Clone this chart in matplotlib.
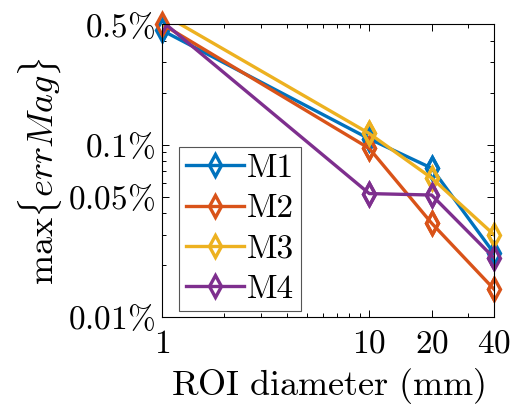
import numpy as np
import matplotlib
matplotlib.use('Agg')
import matplotlib.pyplot as plt
from matplotlib.ticker import FixedLocator, NullFormatter

plt.rcParams['mathtext.fontset'] = 'cm'
plt.rcParams['font.family'] = 'serif'
plt.rcParams['font.serif'] = ['cmr10', 'DejaVu Serif']
plt.rcParams['axes.unicode_minus'] = False

# ROI diameters (mm) and max error magnitude (%)
diam = [1, 10, 20, 40]
m1 = [0.46, 0.108, 0.073, 0.0234]
m2 = [0.50, 0.095, 0.035, 0.0145]
m3 = [0.575, 0.116, 0.064, 0.030]
m4 = [0.52, 0.052, 0.051, 0.022]
names = ['M1', 'M2', 'M3', 'M4']
colors = ['#0072BD', '#D95319', '#EDB120', '#7E2F8E']

ylo, yhi = 0.01, 0.5

fig = plt.figure(figsize=(5.12, 4.15), dpi=100)
ax = fig.add_axes([0.3164, 0.236, 0.6486, 0.706])

for ys, name, c in zip([m1, m2, m3, m4], names, colors):
    ax.plot(diam, ys, color=c, lw=2.4, marker='d', ms=11, mew=2.4,
            mfc='none', label=name)
    # markers on the axes edge are drawn whole, like MATLAB
    xin = [x for x, y in zip(diam, ys) if ylo <= y <= yhi * 1.001]
    yin = [y for y in ys if ylo <= y <= yhi * 1.001]
    ax.plot(xin, yin, ls='none', color=c, marker='d', ms=11, mew=2.4,
            mfc='none', clip_on=False)

ax.set_xscale('log')
ax.set_yscale('log')
ax.set_xlim(1, 40)
ax.set_ylim(ylo, yhi)

xt = [1, 10, 20, 40]
ax.xaxis.set_major_locator(FixedLocator(xt))
ax.set_xticklabels([r'$%d$' % v for v in xt])
ax.xaxis.set_minor_locator(FixedLocator([2, 3, 4, 5, 6, 7, 8, 9, 30]))
ax.xaxis.set_minor_formatter(NullFormatter())

yt = [0.01, 0.05, 0.1, 0.5]
ylab = ['0.01', '0.05', '0.1', '0.5']
ax.yaxis.set_major_locator(FixedLocator(yt))
ax.set_yticklabels([r'$%s\%%$' % s for s in ylab])
ax.yaxis.set_minor_locator(FixedLocator([0.02, 0.03, 0.04, 0.06, 0.07, 0.08, 0.09,
                                         0.2, 0.3, 0.4]))
ax.yaxis.set_minor_formatter(NullFormatter())

ax.tick_params(which='both', direction='in', top=True, right=True,
               labelsize=24, width=0.7)
ax.tick_params(axis='x', pad=9)
ax.tick_params(axis='y', pad=5)
ax.tick_params(which='major', length=5)
ax.tick_params(which='minor', length=3)
for s in ax.spines.values():
    s.set_linewidth(0.8)

ax.set_xlabel(r'$\mathrm{ROI\ diameter\ (mm)}$', fontsize=26, labelpad=5)
ax.set_ylabel(r'$\max\{errMag\}$', fontsize=26, labelpad=3)

leg = ax.legend(loc='upper left', bbox_to_anchor=(179 / 512, 1 - 147 / 415),
                bbox_transform=fig.transFigure, borderaxespad=0, fontsize=24,
                numpoints=1, handlelength=1.75, handletextpad=0.1,
                labelspacing=0.33, borderpad=0.2, fancybox=False,
                framealpha=1, edgecolor='#555555')
leg.get_frame().set_linewidth(0.8)

fig.savefig('out.png', dpi=100)
